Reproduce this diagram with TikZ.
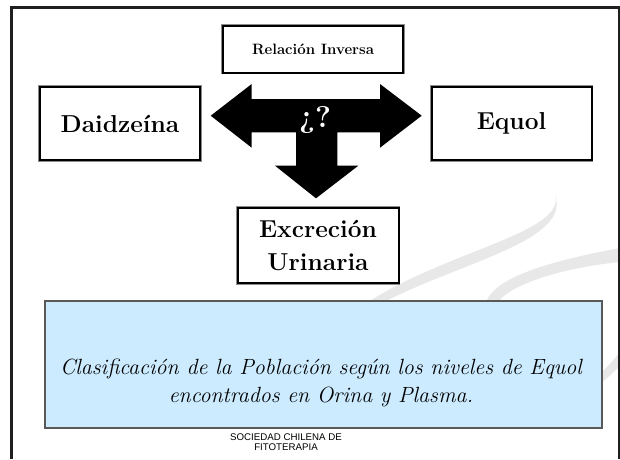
\documentclass[tikz,border=0pt]{standalone}
\usepackage{fontspec}
\newfontfamily\footfont{Liberation Sans}
\usepackage{tikz}
\definecolor{boxblue}{HTML}{CCEBFF}
\tikzset{
  rbox/.style={draw=black, line width=2pt, fill=white, align=center, inner sep=2pt,
    preaction={draw=black!45, line width=3.6pt}},
  swoosh/.style={fill=black!9},
}

\begin{document}
\begin{tikzpicture}[x=1pt,y=-1pt]
  \useasboundingbox (0,0) rectangle (620,459);
  \fill [swoosh] (555,195) .. controls (566,232) and (450,250) .. (368,302) -- (384,302) .. controls (462,262) and (572,240) .. (555,195);
  \fill [swoosh] (620,248) .. controls (545,262) and (495,278) .. (486,302) -- (498,302) .. controls (510,285) and (560,268) .. (620,262);
  \fill [swoosh] (620,352) .. controls (612,362) and (606,368) .. (600,374) -- (600,384) .. controls (610,376) and (616,370) .. (620,366);
  \draw [line width=2.5pt, black!88] (11.5,459) -- (11.5,7.5) -- (619,7.5) -- (619,459);
  \node [rbox, minimum width=180pt, minimum height=47pt, font=\bfseries\fontsize{15}{17}\selectfont] (rel) at (313,49) {Relación Inversa};
  \node [rbox, minimum width=160pt, minimum height=73pt, font=\bfseries\fontsize{24.5}{28}\selectfont] (daid) at (120,123.5) {Daidzeína};
  \node [rbox, minimum width=160pt, minimum height=73pt, font=\bfseries\fontsize{24.5}{28}\selectfont] (equol) at (511.5,123.5) {Equol};
  \node [rbox, minimum width=161pt, minimum height=75pt, font=\bfseries\fontsize{24.5}{33}\selectfont] (excr) at (318,245.5) {Excreción\\Urinaria};
  \fill [black] (210.7,115.7) -- (251.7,84) -- (251.7,99) -- (380,99) -- (380,84) -- (421.7,115.7) -- (380,147.7) -- (380,132.3) -- (337.3,132.3) -- (337.3,165.7) -- (358.3,165.7) -- (316,198.3) -- (275,165.7) -- (296,165.7) -- (296,132.3) -- (251.7,132.3) -- (251.7,147.7) -- cycle;
  \node [text=white, font=\bfseries\fontsize{30}{34}\selectfont] (ask) at (315,120) {¿?};
  \node [fill=boxblue, draw=black!65, line width=1.2pt, minimum width=557pt, minimum height=127pt,
    preaction={fill=black!45, transform canvas={xshift=1.2pt, yshift=-1.2pt}}] (pop) at (323.5,364.5) {};
  \node [align=center, font=\itshape\fontsize{22}{28}\selectfont] (popt) at (321,383) {Clasificación de la Población según los niveles de Equol\\encontrados en Orina y Plasma.};
  \node [align=center, font=\footfont\fontsize{9.7}{10.5}\selectfont] (soc) at (286,442) {SOCIEDAD CHILENA DE\\FITOTERAPIA};
\end{tikzpicture}
\end{document}
